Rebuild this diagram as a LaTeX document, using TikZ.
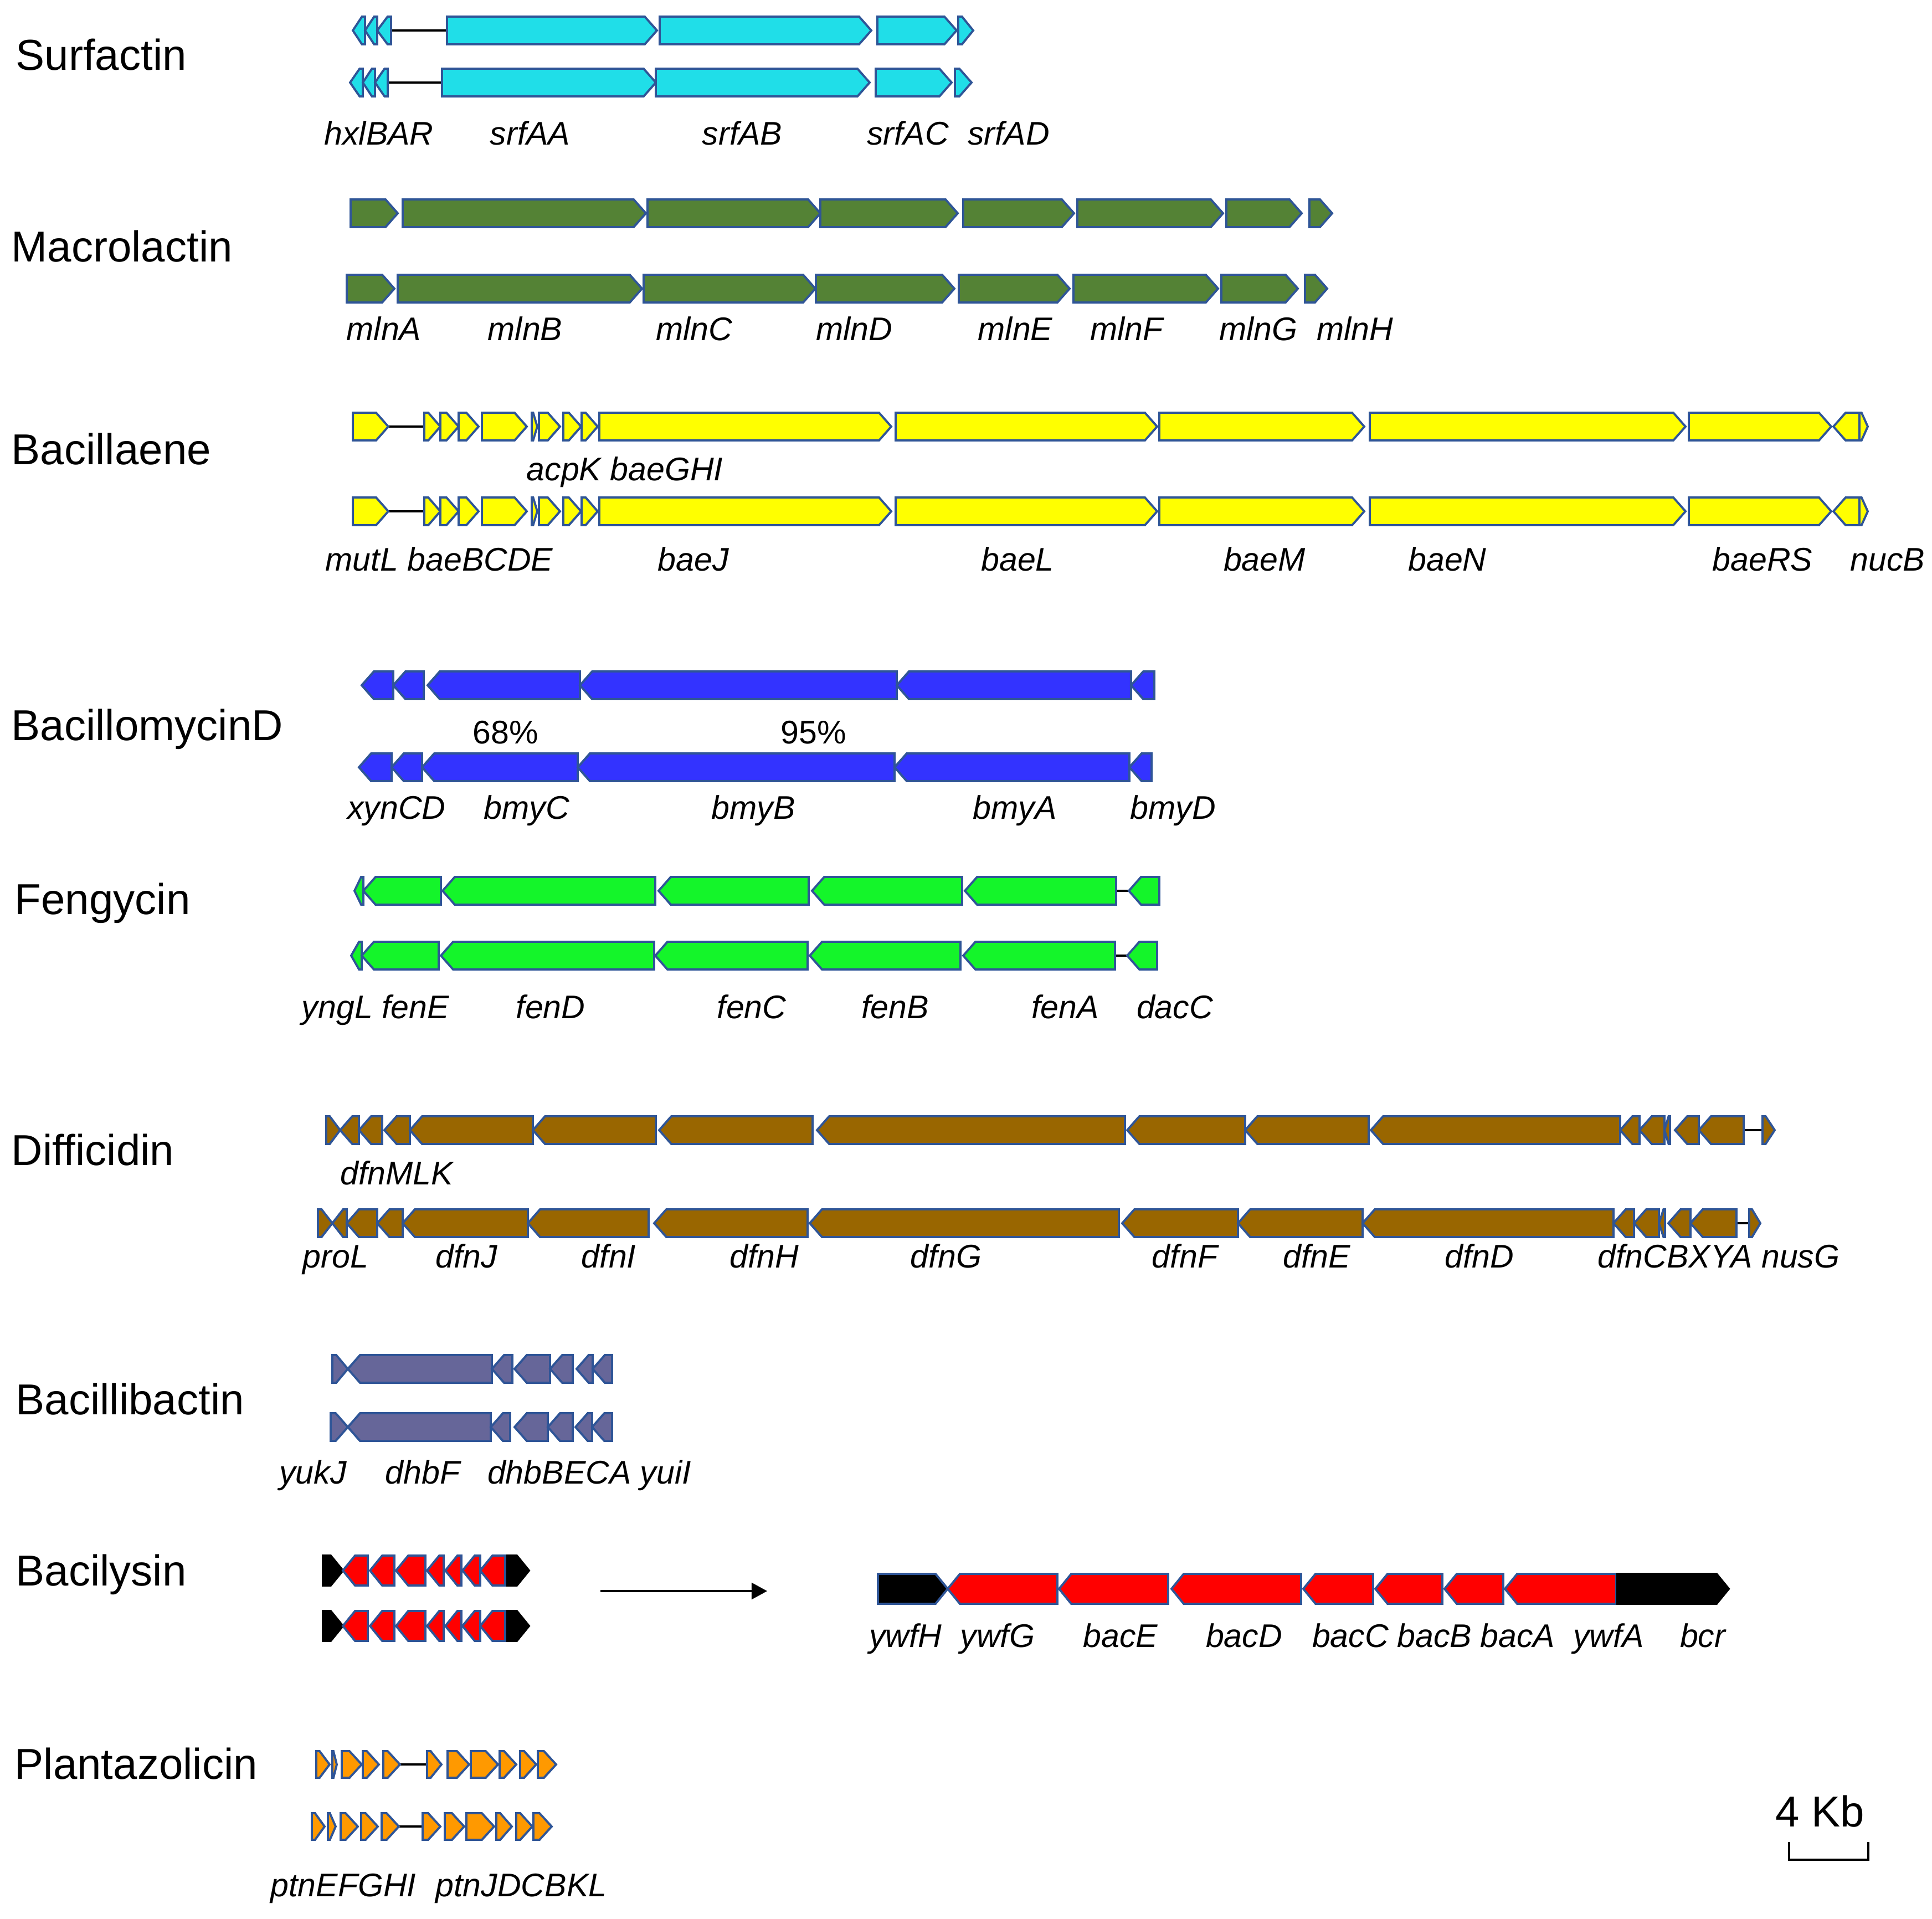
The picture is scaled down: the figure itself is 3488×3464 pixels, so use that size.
\documentclass[tikz,border=0pt]{standalone}
\usepackage{fontspec}
\setmainfont{Liberation Sans}
\usetikzlibrary{arrows.meta}

\definecolor{outl}{RGB}{47,85,151}
\definecolor{surf}{RGB}{32,222,232}
\definecolor{macro}{RGB}{84,130,53}
\definecolor{bae}{RGB}{255,255,0}
\definecolor{bmy}{RGB}{51,51,255}
\definecolor{fen}{RGB}{20,245,42}
\definecolor{dfn}{RGB}{153,102,0}
\definecolor{dhb}{RGB}{102,102,153}
\definecolor{bac}{RGB}{255,0,0}
\definecolor{ptn}{RGB}{255,153,0}

\def\gh{25}
\newcommand{\gf}[3]{\pgfmathsetmacro{\gtip}{min(22,0.75*(#2-#1))}%
  \draw[gene] (#1,{#3-\gh}) -- ({#2-\gtip},{#3-\gh}) -- (#2,#3) -- ({#2-\gtip},{#3+\gh}) -- (#1,{#3+\gh}) -- cycle;}
\newcommand{\gr}[3]{\pgfmathsetmacro{\gtip}{min(22,0.75*(#2-#1))}%
  \draw[gene] (#1,#3) -- ({#1+\gtip},{#3-\gh}) -- (#2,{#3-\gh}) -- (#2,{#3+\gh}) -- ({#1+\gtip},{#3+\gh}) -- cycle;}

\begin{document}
\begin{tikzpicture}[x=0.01cm,y=-0.01cm]
\tikzset{gene/.style={draw=outl,line width=1.1pt,line join=miter}}
\tikzset{spacer/.style={line width=0.9pt}}
\tikzset{glab/.style={anchor=base,inner sep=0pt,font=\fontsize{16.8}{19}\selectfont\itshape}}
\tikzset{pct/.style={anchor=base,inner sep=0pt,font=\fontsize{16.8}{19}\selectfont}}
\tikzset{title/.style={anchor=base west,inner sep=0pt,font=\fontsize{22.2}{25}\selectfont}}
\useasboundingbox (0,0) rectangle (3488,3464);

\node[title] (surfactin) at (28,127) {Surfactin};
\node[title] (macrolactin) at (20,473) {Macrolactin};
\node[title] (bacillaene) at (20,838) {Bacillaene};
\node[title] (bacillomycin) at (20,1336) {BacillomycinD};
\node[title] (fengycin) at (26,1650) {Fengycin};
\node[title] (difficidin) at (20,2103) {Difficidin};
\node[title] (bacillibactin) at (28,2553) {Bacillibactin};
\node[title] (bacilysin) at (28,2862) {Bacilysin};
\node[title] (plantazolicin) at (26,3211) {Plantazolicin};

\begin{scope}[gene/.append style={fill=surf}]
\draw[spacer] (706,55) -- (807,55);
\draw[spacer] (700,149) -- (798,149);
\foreach \a/\b in {637/659,659/681,681/706} {\gr{\a}{\b}{55}}
\foreach \a/\b in {807/1186,1191/1573,1584/1727,1730/1757} {\gf{\a}{\b}{55}}
\foreach \a/\b in {632/655,655/677,677/700} {\gr{\a}{\b}{149}}
\foreach \a/\b in {798/1184,1184/1570,1581/1718,1724/1754} {\gf{\a}{\b}{149}}
\end{scope}
\node[glab] (hxlBAR) at (684,262) {hxlBAR};
\node[glab] (srfAA) at (957,262) {srfAA};
\node[glab] (srfAB) at (1340,262) {srfAB};
\node[glab] (srfAC) at (1639,262) {srfAC};
\node[glab] (srfAD) at (1821,262) {srfAD};

\begin{scope}[gene/.append style={fill=macro}]
\foreach \a/\b in {633/718,727/1166,1169/1481,1481/1729,1739/1939,1945/2208,2214/2350,2364/2405} {\gf{\a}{\b}{385}}
\foreach \a/\b in {626/712,718/1159,1162/1472,1473/1723,1731/1931,1938/2199,2205/2343,2356/2396} {\gf{\a}{\b}{521}}
\end{scope}
\node[glab] (mlnA) at (693,615) {mlnA};
\node[glab] (mlnB) at (948,615) {mlnB};
\node[glab] (mlnC) at (1253,615) {mlnC};
\node[glab] (mlnD) at (1542,615) {mlnD};
\node[glab] (mlnE) at (1833,615) {mlnE};
\node[glab] (mlnF) at (2034,615) {mlnF};
\node[glab] (mlnG) at (2272,615) {mlnG};
\node[glab] (mlnH) at (2446,615) {mlnH};

\begin{scope}[gene/.append style={fill=bae}]
\foreach \y in {770,923} {
  \draw[spacer] (701,\y) -- (766,\y);
  \foreach \a/\b in {637/701,766/795,795/828,828/864,870/951,960/970,973/1011,1017/1049,1050/1079,1082/1609,1617/2089,2093/2463,2473/3043,3049/3306,3357/3372} {\gf{\a}{\b}{\y}}
  \gr{3310}{3357}{\y}
}
\end{scope}
\node[glab] (acpK) at (1128,867) {acpK baeGHI};
\node[glab] (mutL) at (793,1030) {mutL baeBCDE};
\node[glab] (baeJ) at (1252,1030) {baeJ};
\node[glab] (baeL) at (1837,1030) {baeL};
\node[glab] (baeM) at (2283,1030) {baeM};
\node[glab] (baeN) at (2613,1030) {baeN};
\node[glab] (baeRS) at (3182,1030) {baeRS};
\node[glab] (nucB) at (3408,1030) {nucB};

\begin{scope}[gene/.append style={fill=bmy}]
\foreach \a/\b in {653/710,710/765,772/1047,1047/1619,1619/2042,2042/2084} {\gr{\a}{\b}{1237}}
\foreach \a/\b in {648/707,707/762,762/1043,1043/1615,1615/2039,2039/2079} {\gr{\a}{\b}{1385}}
\end{scope}
\node[pct] (p68) at (913,1342) {68\%};
\node[pct] (p95) at (1469,1342) {95\%};
\node[glab] (xynCD) at (716,1478) {xynCD};
\node[glab] (bmyC) at (951,1478) {bmyC};
\node[glab] (bmyB) at (1360,1478) {bmyB};
\node[glab] (bmyA) at (1832,1478) {bmyA};
\node[glab] (bmyD) at (2118,1478) {bmyD};

\begin{scope}[gene/.append style={fill=fen}]
\draw[spacer] (2015,1608) -- (2038,1608);
\draw[spacer] (2013,1725) -- (2035,1725);
\foreach \a/\b in {640/656,656/796,799/1183,1189/1460,1466/1737,1742/2015,2038/2093} {\gr{\a}{\b}{1608}}
\foreach \a/\b in {634/653,653/792,796/1181,1183/1458,1462/1734,1739/2013,2035/2089} {\gr{\a}{\b}{1725}}
\end{scope}
\node[glab] (yngL) at (678,1838) {yngL fenE};
\node[glab] (fenD) at (994,1838) {fenD};
\node[glab] (fenC) at (1357,1838) {fenC};
\node[glab] (fenB) at (1616,1838) {fenB};
\node[glab] (fenA) at (1923,1838) {fenA};
\node[glab] (dacC) at (2121,1838) {dacC};

\begin{scope}[gene/.append style={fill=dfn}]
\draw[spacer] (3148,2040) -- (3182,2040);
\draw[spacer] (3135,2208) -- (3158,2208);
\gf{589}{614}{2040}
\foreach \a/\b in {614/648,648/690,694/740,740/962,962/1184,1190/1467,1475/2031,2035/2248,2248/2471,2475/2925,2925/2960,2960/3005,3005/3015,3024/3067,3067/3148} {\gr{\a}{\b}{2040}}
\gf{3182}{3204}{2040}
\gf{574}{600}{2208}
\foreach \a/\b in {600/626,626/681,681/727,727/953,953/1171,1181/1458,1462/2020,2026/2235,2235/2460,2460/2913,2913/2950,2950/2995,2995/3006,3012/3052,3052/3135} {\gr{\a}{\b}{2208}}
\gf{3158}{3178}{2208}
\end{scope}
\node[glab] (dfnMLK) at (716,2138) {dfnMLK};
\node[glab] (proL) at (606,2288) {proL};
\node[glab] (dfnJ) at (842,2288) {dfnJ};
\node[glab] (dfnI) at (1099,2288) {dfnI};
\node[glab] (dfnH) at (1380,2288) {dfnH};
\node[glab] (dfnG) at (1708,2288) {dfnG};
\node[glab] (dfnF) at (2139,2288) {dfnF};
\node[glab] (dfnE) at (2377,2288) {dfnE};
\node[glab] (dfnD) at (2671,2288) {dfnD};
\node[glab] (dfnC) at (3103,2288) {dfnCBXYA nusG};

\begin{scope}[gene/.append style={fill=dhb}]
\gf{600}{628}{2471}
\foreach \a/\b in {628/888,888/925,929/993,993/1034,1041/1070,1070/1105} {\gr{\a}{\b}{2471}}
\gf{597}{628}{2576}
\foreach \a/\b in {628/886,886/921,929/989,989/1034,1039/1069,1069/1105} {\gr{\a}{\b}{2576}}
\end{scope}
\node[glab] (yukJ) at (565,2678) {yukJ};
\node[glab] (dhbF) at (763,2678) {dhbF};
\node[glab] (dhbB) at (1064,2678) {dhbBECA yuiI};

\begin{scope}[gene/.append style={fill=bac}]
\def\gh{27}
\foreach \y in {2835,2935} {
  \begin{scope}[gene/.append style={fill=black,draw=black}]
  \gf{583}{619}{\y}
  \gf{912}{955}{\y}
  \end{scope}
  \foreach \a/\b in {619/664,668/712,715/768,771/801,804/833,835/867,867/912} {\gr{\a}{\b}{\y}}
}
\foreach \a/\b in {1711/1909,1912/2109,2115/2349,2353/2479,2483/2604,2608/2714,2717/2918} {\gr{\a}{\b}{2868}}
\begin{scope}[gene/.append style={fill=black}]
\gf{1585}{1711}{2868}
\end{scope}
\begin{scope}[gene/.append style={fill=black,draw=black}]
\gf{2920}{3121}{2868}
\end{scope}
\end{scope}
\coordinate (bacfrom) at (1084,2872);
\coordinate (bacto) at (1385,2872);
\draw[line width=0.9pt,-{Triangle[length=8pt,width=8.5pt]}] (bacfrom) -- (bacto);
\node[glab] (ywfH) at (1635,2973) {ywfH};
\node[glab] (ywfG) at (1801,2973) {ywfG};
\node[glab] (bacE) at (2023,2973) {bacE};
\node[glab] (bacD) at (2246,2973) {bacD};
\node[glab] (bacC) at (2438,2973) {bacC};
\node[glab] (bacB) at (2590,2973) {bacB};
\node[glab] (bacA) at (2740,2973) {bacA};
\node[glab] (ywfA) at (2904,2973) {ywfA};
\node[glab] (bcr) at (3074,2973) {bcr};

\begin{scope}[gene/.append style={fill=ptn}]
\def\gh{24}
\draw[spacer] (722,3185) -- (771,3185);
\draw[spacer] (720,3297) -- (763,3297);
\foreach \a/\b in {571/595,600/608,617/653,655/684,692/722,771/797,808/847,850/899,902/932,939/968,971/1004} {\gf{\a}{\b}{3185}}
\foreach \a/\b in {563/586,592/606,615/646,652/682,689/720,763/795,803/838,842/892,896/924,932/961,963/996} {\gf{\a}{\b}{3297}}
\end{scope}
\node[glab] (ptnE) at (620,3423) {ptnEFGHI};
\node[glab] (ptnJ) at (941,3423) {ptnJDCBKL};

\node[title,anchor=base] (scale) at (3286,3297) {4 Kb};
\coordinate (sbl) at (3230,3325);
\coordinate (sbr) at (3373,3325);
\draw[line width=0.9pt] (sbl) -- ++(0,32) -| (sbr);
\end{tikzpicture}
\end{document}
